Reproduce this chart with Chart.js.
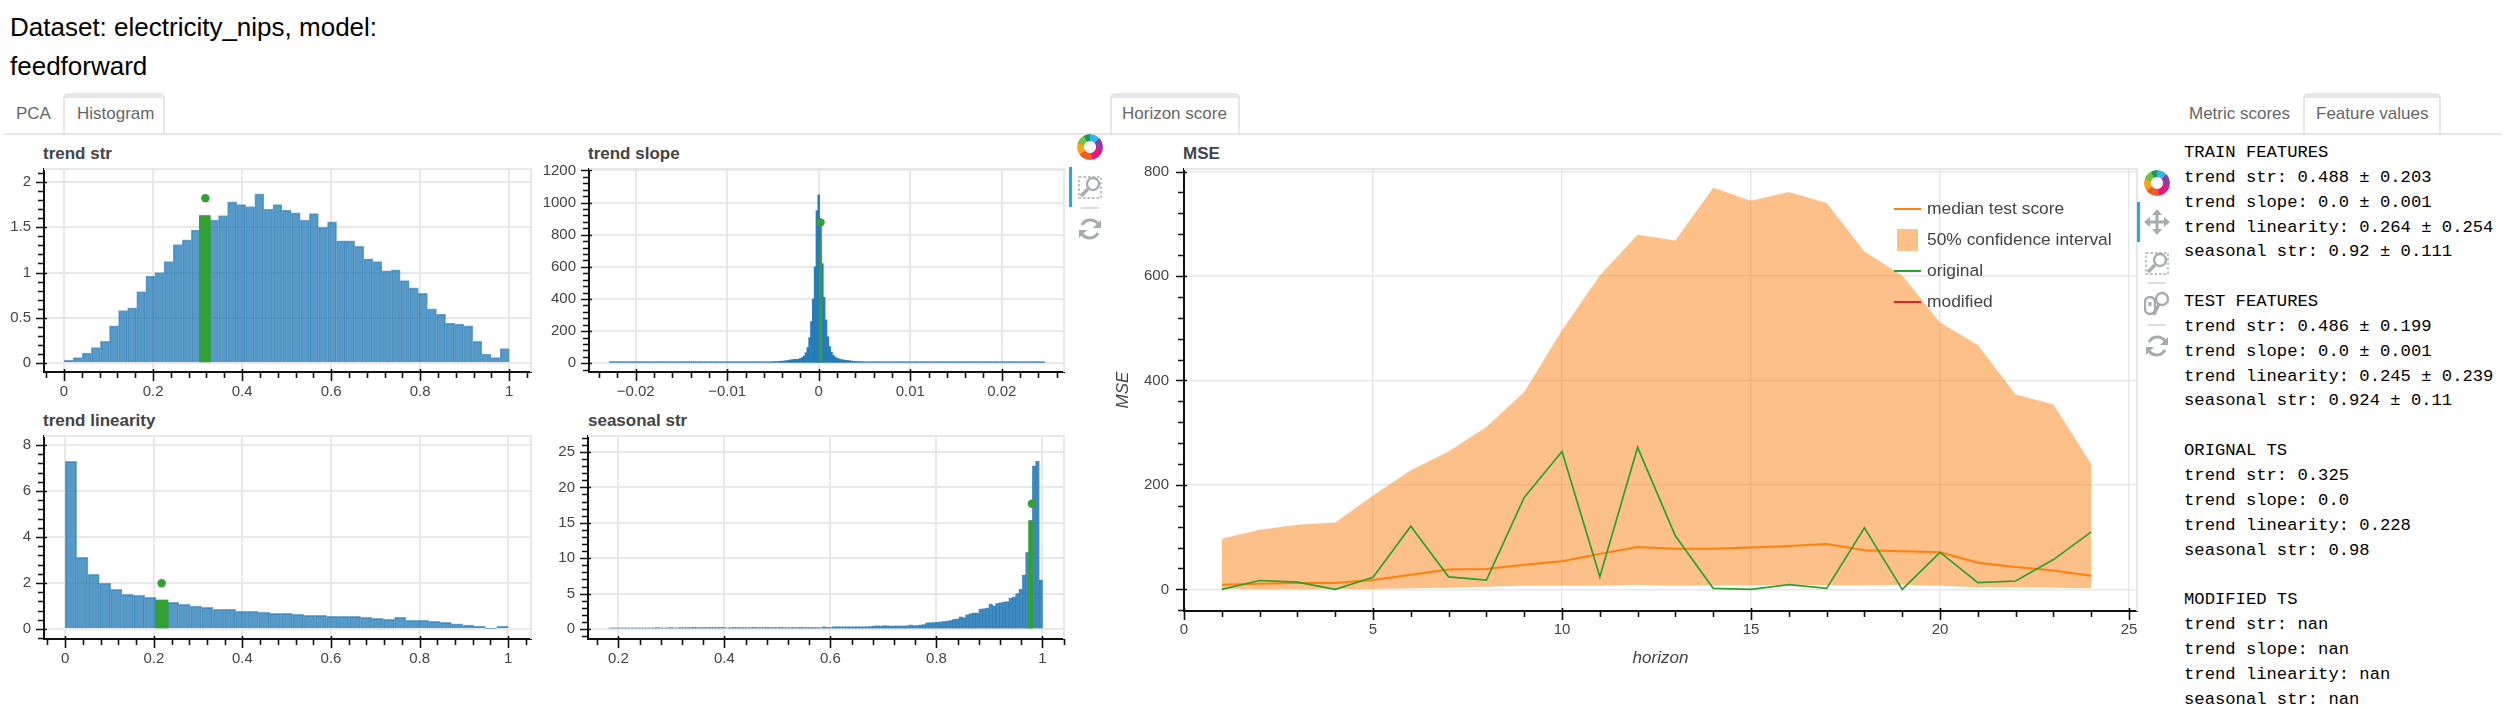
<!DOCTYPE html>
<html>
<head>
<meta charset="utf-8">
<script src="https://cdn.jsdelivr.net/npm/chart.js@4"></script>
<style>
  html, body { margin: 0; background: #fff; overflow: hidden; }
  body { width: 2511px; height: 709px; position: relative; font-family: "Liberation Sans", sans-serif; }
  canvas, .abs { position: absolute; }
  .head { left: 10px; top: 8px; font-size: 26px; line-height: 38.5px; color: #000; white-space: pre; }
  .rule { height: 2px; background: #e6e6e6; top: 133px; left: 4px; width: 2497px; }
  .tab { top: 102px; font-size: 17px; line-height: 24px; color: #666; white-space: nowrap; }
  .tabbox { top: 93px; height: 40px; box-sizing: border-box; border: 2px solid #e6e6e6; border-top-width: 5px; border-bottom: 0; border-radius: 5px 5px 0 0; background: #fff; }
  .plot-title { font-size: 17px; font-weight: bold; color: #444; line-height: 20px; }
  .legend { font-size: 17.4px; line-height: 20px; color: #444; white-space: nowrap; }
  pre.features { margin: 0; left: 2184px; top: 141px; font-family: "Liberation Mono", monospace; font-size: 17.2px; line-height: 24.85px; color: #000; }
  .logo { width: 26px; height: 26px; border-radius: 50%; background: conic-gradient(#36b5e5 0 45deg, #8e3fa8 45deg 100deg, #e6177d 100deg 170deg, #f15a29 170deg 235deg, #f9a61a 235deg 285deg, #7bc043 285deg 330deg, #1c9a5a 330deg 360deg); -webkit-mask: radial-gradient(circle, transparent 5.5px, #000 6.5px); }
  .active { width: 3px; height: 40px; background: #26aae1; }
  .sep { width: 18px; height: 2px; background: #ddd; }
  svg.tool { position: absolute; width: 26px; height: 26px; fill: none; stroke: #a6abae; stroke-width: 2.4; }
</style>
</head>
<body>
<div class="abs head">Dataset: electricity_nips, model:
feedforward</div>

<div class="abs rule"></div>
<div class="abs tab" style="left:16px">PCA</div>
<div class="abs tabbox" style="left:63px;width:102px"></div>
<div class="abs tab" style="left:77px">Histogram</div>
<div class="abs tabbox" style="left:1110px;width:130px"></div>
<div class="abs tab" style="left:1122px">Horizon score</div>
<div class="abs tab" style="left:2189px">Metric scores</div>
<div class="abs tabbox" style="left:2303px;width:138px"></div>
<div class="abs tab" style="left:2316px">Feature values</div>

<div class="abs plot-title" style="left:43px;top:144px">trend str</div>
<div class="abs plot-title" style="left:588px;top:144px">trend slope</div>
<div class="abs plot-title" style="left:43px;top:411px">trend linearity</div>
<div class="abs plot-title" style="left:588px;top:411px">seasonal str</div>
<div class="abs plot-title" style="left:1183px;top:144px">MSE</div>

<canvas id="histStr" width="560" height="240" style="left:0;top:160px"></canvas>
<canvas id="histSlope" width="540" height="240" style="left:530px;top:160px"></canvas>
<canvas id="histLinearity" width="560" height="240" style="left:0;top:427px"></canvas>
<canvas id="histSeasonal" width="540" height="240" style="left:530px;top:427px"></canvas>
<canvas id="horizon" width="1060" height="520" style="left:1100px;top:160px"></canvas>

<div id="legend"></div>

<!-- left toolbar -->
<div class="abs logo" style="left:1077px;top:134px"></div>
<div class="abs active" style="left:1069px;top:167px"></div>
<svg class="tool" viewBox="0 0 26 26" style="left:1077px;top:174px"><rect x="2" y="3" width="22" height="21" stroke-width="1.4" stroke-dasharray="2.5 2"/><circle cx="16" cy="10" r="6"/><path d="M11 15 L4 22" stroke-width="3.4"/></svg>
<div class="abs sep" style="left:1081px;top:207px"></div>
<svg class="tool" viewBox="0 0 26 26" style="left:1077px;top:216px"><path d="M5 9 A9.5 9.5 0 0 1 21 8 M21 17 A9.5 9.5 0 0 1 5 18" stroke-width="3"/><path d="M24 4 V12 H16 Z M2 22 V14 H10 Z" fill="#a6abae" stroke="none"/></svg>

<!-- right toolbar -->
<div class="abs logo" style="left:2144px;top:170px"></div>
<div class="abs active" style="left:2137px;top:202px"></div>
<svg class="tool" viewBox="0 0 26 26" style="left:2144px;top:209px"><path d="M13 3 V23 M3 13 H23" stroke-width="3"/><path d="M13 0 L18 6 H8 Z M13 26 L18 20 H8 Z M0 13 L6 8 V18 Z M26 13 L20 8 V18 Z" fill="#a6abae" stroke="none"/></svg>
<svg class="tool" viewBox="0 0 26 26" style="left:2144px;top:250px"><rect x="2" y="3" width="22" height="21" stroke-width="1.4" stroke-dasharray="2.5 2"/><circle cx="16" cy="10" r="6"/><path d="M11 15 L4 22" stroke-width="3.4"/></svg>
<div class="abs sep" style="left:2148px;top:282px"></div>
<svg class="tool" viewBox="0 0 26 26" style="left:2144px;top:291px"><rect x="1" y="6" width="10" height="17" rx="5"/><path d="M6 11 V15" stroke-width="3"/><circle cx="18" cy="8" r="6"/><path d="M15 13 L10 24" stroke-width="3"/></svg>
<div class="abs sep" style="left:2148px;top:324px"></div>
<svg class="tool" viewBox="0 0 26 26" style="left:2144px;top:333px"><path d="M5 9 A9.5 9.5 0 0 1 21 8 M21 17 A9.5 9.5 0 0 1 5 18" stroke-width="3"/><path d="M24 4 V12 H16 Z M2 22 V14 H10 Z" fill="#a6abae" stroke="none"/></svg>

<pre class="abs features">TRAIN FEATURES
trend str: 0.488 ± 0.203
trend slope: 0.0 ± 0.001
trend linearity: 0.264 ± 0.254
seasonal str: 0.92 ± 0.111

TEST FEATURES
trend str: 0.486 ± 0.199
trend slope: 0.0 ± 0.001
trend linearity: 0.245 ± 0.239
seasonal str: 0.924 ± 0.11

ORIGNAL TS
trend str: 0.325
trend slope: 0.0
trend linearity: 0.228
seasonal str: 0.98

MODIFIED TS
trend str: nan
trend slope: nan
trend linearity: nan
seasonal str: nan</pre>

<script>
// histogram heights, one value per bin
const strBins = [
  0.03, 0.06, 0.11, 0.17, 0.24, 0.41, 0.58, 0.61, 0.79, 0.96,
  1.0, 1.12, 1.31, 1.36, 1.47, 1.63, 1.58, 1.63, 1.78, 1.75,
  1.73, 1.87, 1.7, 1.75, 1.69, 1.66, 1.58, 1.65, 1.5, 1.56,
  1.35, 1.35, 1.29, 1.15, 1.12, 1.02, 1.03, 0.91, 0.83, 0.77,
  0.6, 0.54, 0.44, 0.43, 0.41, 0.24, 0.1, 0.06, 0.16
];
const linearityBins = [
  7.29, 3.12, 2.38, 1.99, 1.72, 1.51, 1.46, 1.38, 1.26, 1.16,
  1.07, 1.0, 0.94, 0.86, 0.86, 0.77, 0.77, 0.72, 0.68, 0.68,
  0.64, 0.59, 0.59, 0.55, 0.55, 0.55, 0.51, 0.46, 0.42, 0.51,
  0.38, 0.38, 0.33, 0.29, 0.22, 0.17, 0.12, 0.03, 0.12
];
const seasonalBins = [
  0.02, 0.02, 0.03, 0.03, 0.03, 0.04, 0.04, 0.05, 0.05, 0.05,
  0.06, 0.07, 0.08, 0.12, 0.2, 0.12, 0.1, 0.13, 0.2, 0.14,
  0.15, 0.2, 0.18, 0.2, 0.2, 0.22, 0.2, 0.2, 0.2, 0.2,
  0.22, 0.2, 0.2, 0.22, 0.2, 0.1, 0.2, 0.22, 0.2, 0.2,
  0.2, 0.18, 0.2, 0.22, 0.2, 0.2, 0.2, 0.22, 0.2, 0.2,
  0.2, 0.22, 0.2, 0.18, 0.2, 0.2, 0.2, 0.22, 0.2, 0.2,
  0.2, 0.2, 0.2, 0.18, 0.3, 0.22, 0.2, 0.3, 0.32, 0.3,
  0.3, 0.32, 0.3, 0.3, 0.32, 0.3, 0.3, 0.32, 0.35, 0.4,
  0.45, 0.4, 0.45, 0.45, 0.4, 0.42, 0.42, 0.42, 0.42, 0.45,
  0.55, 0.45, 0.5, 0.55, 0.62, 0.85, 0.88, 0.9, 0.95, 1.0,
  1.05, 1.1, 1.2, 1.35, 1.4, 1.7, 1.6, 2.0, 2.15, 2.25,
  2.25, 2.8, 2.85, 2.95, 3.5, 3.25, 3.6, 3.7, 3.8, 3.85,
  4.35, 4.5, 5.0, 5.6, 7.6, 10.8, 15.3, 23.0, 23.7, 6.9
];
const slopeBins = [
  1, 1, 1, 1, 1, 1, 1, 1, 1, 1, 1, 1, 1, 1, 1, 1, 1, 1, 1, 1,
  1, 1, 1, 1, 1, 1, 1, 1, 1, 1, 1, 1, 1, 1, 1, 2, 1, 1, 1, 1,
  1, 1, 1, 2, 1, 1, 1, 2, 1, 2, 2, 1, 2, 2, 1, 2, 2, 2, 2, 2,
  3, 2, 2, 3, 3, 2, 3, 3, 3, 3, 3, 4, 3, 4, 4, 4, 5, 4, 5, 5,
  6, 5, 6, 6, 7, 7, 8, 9, 9, 10, 11, 11, 12, 13, 13, 14, 16, 18, 20, 22,
  23, 25, 24, 26, 30, 36, 46, 66, 98, 160, 260, 400, 600, 950,
  1048,
  880, 620, 410, 270, 165, 105, 70, 50, 40, 32,
  28, 24, 22, 20, 18, 17, 16, 14, 13, 12,
  11, 11, 10, 10, 9, 8, 8, 8, 7, 7,
  6, 6, 5, 5, 5, 4, 4, 4, 4, 3,
  4, 3, 3, 3, 3, 3, 2, 3, 2, 2,
  2, 2, 2, 2, 1, 2, 2, 1, 2, 1,
  1, 1, 2, 1, 1, 1, 1, 1, 2, 1, 1, 1, 1, 1, 1, 1, 1, 1, 1, 1, 1,
  1, 1, 1, 1, 1, 1, 1, 1, 1, 1, 1, 1, 1, 1, 1, 1, 1, 1, 1, 1, 1,
  1, 1, 1, 1, 1, 1, 1, 1, 1, 1, 1, 1, 1, 1, 1, 1, 1, 1, 1, 1, 1
];

// horizon score
const horizons = [1, 2, 3, 4, 5, 6, 7, 8, 9, 10, 11, 12, 13, 14, 15, 16, 17, 18, 19, 20, 21, 22, 23, 24];
const bandUpper = [97, 114, 124, 128, 180, 228, 264, 311, 378, 496, 601, 679, 668, 769, 744, 761, 740, 647, 601, 511, 468, 373, 354, 240];
const bandLower = [1, 0.5, 0.5, 0.5, 0.5, 2, 3, 5, 7, 7, 7, 9, 7, 8, 8, 9, 8, 8, 9, 7, 4, 4, 3, 2];
const medianScore = [9, 11, 12, 12, 18, 28, 38, 39, 47, 54, 68, 81, 78, 78, 80, 83, 87, 75, 73, 71, 51, 43, 36, 26];
const originalScore = [0, 17, 14, 0, 23, 121, 24, 18, 176, 264, 24, 272, 102, 2, 0, 9, 2, 118, 0, 71, 13, 16, 57, 110];
const modifiedScore = [];

// axis tick labels
const unitTicks = [0, 0.2, 0.4, 0.6, 0.8, 1];
const strYTicks = [0, 0.5, 1, 1.5, 2];
const slopeXTicks = [-0.02, -0.01, 0, 0.01, 0.02];
const slopeYTicks = [0, 200, 400, 600, 800, 1000, 1200];
const linearityYTicks = [0, 2, 4, 6, 8];
const seasonalXTicks = [0.2, 0.4, 0.6, 0.8, 1];
const seasonalYTicks = [0, 5, 10, 15, 20, 25];
const horizonXTicks = [0, 5, 10, 15, 20, 25];
const horizonYTicks = [0, 200, 400, 600, 800];

const legendNames = ["median test score", "50% confidence interval", "original", "modified"];

const BLUE = "rgba(31, 119, 180, 0.75)";
const GREEN = "#33a035";
const ORANGE = "#ff7f0e";
const GRID = "#e8e8e8";
const LABEL = "#444";

// bokeh style ticks: long majors crossing the axis, short minors outside
const axisTicks = {
  id: "axisTicks",
  beforeDatasetsDraw(chart) {
    const { ctx, chartArea: a } = chart;
    ctx.save();
    ctx.strokeStyle = GRID;
    ctx.lineWidth = 2;
    ctx.beginPath();
    ctx.moveTo(a.left, a.top);
    ctx.lineTo(a.right, a.top);
    ctx.lineTo(a.right, a.bottom);
    ctx.stroke();
    ctx.restore();
  },
  afterDraw(chart) {
    const { ctx, chartArea: a, scales } = chart;
    const o = chart.options.plugins.axisTicks;
    ctx.save();
    ctx.strokeStyle = "#111";
    ctx.lineWidth = 1.6;
    ctx.beginPath();
    for (const [axis, step] of [[scales.x, o.xMinor], [scales.y, o.yMinor]]) {
      const horizontal = axis === scales.x;
      for (let n = Math.ceil(axis.min / step - 1e-6); n * step <= axis.max + 1e-9; n++) {
        const p = Math.round(axis.getPixelForValue(n * step)) + 0.5;
        if (horizontal) { ctx.moveTo(p, a.bottom); ctx.lineTo(p, a.bottom + 6); }
        else { ctx.moveTo(a.left, p); ctx.lineTo(a.left - 6, p); }
      }
      for (const t of axis.ticks) {
        const p = Math.round(axis.getPixelForValue(t.value)) + 0.5;
        if (horizontal) { ctx.moveTo(p, a.bottom - 3); ctx.lineTo(p, a.bottom + 9); }
        else { ctx.moveTo(a.left + 3, p); ctx.lineTo(a.left - 8, p); }
      }
    }
    ctx.stroke();
    ctx.restore();
  }
};

function axis(range, ticks, side, padding, gridWidth) {
  return {
    type: "linear",
    min: range[0],
    max: range[1],
    offset: false,
    afterBuildTicks: s => { s.ticks = ticks.map(value => ({ value })); },
    afterFit: s => {
      if (side.w) s.width = side.w;
      if (side.h) s.height = side.h;
      // the plot rectangle is fixed, no room for overhanging labels
      s.paddingTop = s.paddingBottom = s.paddingLeft = s.paddingRight = 0;
    },
    grid: { color: GRID, lineWidth: gridWidth, drawTicks: false, offset: false },
    border: { color: "#111", width: 2 },
    ticks: {
      autoSkip: false,
      maxRotation: 0,
      padding,
      color: LABEL,
      font: { family: "Liberation Sans", size: 15 },
      callback: v => String(v).replace("-", "\u2212")
    }
  };
}

function histogram(id, cfg) {
  const centers = cfg.bins.map((_, i) => cfg.start + (i + 0.5) * cfg.width);
  new Chart(document.getElementById(id), {
    type: "bar",
    data: {
      datasets: [
        {
          type: "scatter",
          data: [{ x: cfg.dot[0], y: cfg.dot[1] }],
          pointRadius: 4.2,
          pointBackgroundColor: GREEN,
          pointBorderWidth: 0,
          order: 0
        },
        {
          data: [{ x: centers[cfg.markBin], y: cfg.markValue }],
          backgroundColor: GREEN,
          barThickness: cfg.markWidth,
          grouped: false,
          order: 1
        },
        {
          data: cfg.bins.map((y, i) => ({ x: centers[i], y })),
          backgroundColor: cfg.fill || BLUE,
          borderColor: "rgba(31, 119, 180, 0.6)",
          borderWidth: cfg.border === undefined ? 1 : cfg.border,
          minBarLength: cfg.minBar || 0,
          barPercentage: 1,
          categoryPercentage: 1,
          grouped: false,
          order: 2
        }
      ]
    },
    options: {
      responsive: false,
      animation: false,
      devicePixelRatio: 1,
      events: [],
      layout: { autoPadding: false, padding: { top: 9, right: cfg.right } },
      plugins: {
        legend: { display: false },
        tooltip: { enabled: false },
        title: { display: false },
        axisTicks: { xMinor: cfg.xMinor, yMinor: cfg.yMinor }
      },
      scales: {
        x: axis(cfg.xRange, cfg.xTicks, { h: cfg.bottom }, 11, 2),
        y: axis(cfg.yRange, cfg.yTicks, { w: cfg.left }, 13, 2)
      }
    },
    plugins: [axisTicks]
  });
}

histogram("histStr", {
  bins: strBins, start: 0, width: 1 / 49, markBin: 15, markValue: 1.63, markWidth: 11, dot: [0.3175, 1.82],
  xRange: [-0.045, 1.049], yRange: [-0.0994, 2.144], xTicks: unitTicks, yTicks: strYTicks,
  xMinor: 0.04, yMinor: 0.1, left: 44, right: 29, bottom: 28
});
histogram("histSlope", {
  bins: slopeBins, start: -0.0229, width: 0.0002, markBin: 115, markValue: 775, markWidth: 1.8, dot: [0.0002, 877],
  xRange: [-0.0251, 0.0268], yRange: [-54, 1209], xTicks: slopeXTicks, yTicks: slopeYTicks,
  xMinor: 0.002, yMinor: 40, left: 59, right: 6, bottom: 28, fill: "rgba(31, 119, 180, 0.95)", border: 0, minBar: 1.5
});
histogram("histLinearity", {
  bins: linearityBins, start: 0, width: 1 / 39, markBin: 8, markValue: 1.26, markWidth: 12.6, dot: [0.2177, 1.99],
  xRange: [-0.0479, 1.0515], yRange: [-0.435, 8.39], xTicks: unitTicks, yTicks: linearityYTicks,
  xMinor: 0.04, yMinor: 0.4, left: 44, right: 29, bottom: 28
});
histogram("histSeasonal", {
  bins: seasonalBins, start: 0.1822, width: 0.00629, markBin: 126, markValue: 15.3, markWidth: 4.2, dot: [0.98, 17.7],
  xRange: [0.1426, 1.0406], yRange: [-1.41, 27.26], xTicks: seasonalXTicks, yTicks: seasonalYTicks,
  xMinor: 0.04, yMinor: 1, left: 58, right: 6, bottom: 28, fill: "rgba(31, 119, 180, 0.85)", border: 0, minBar: 1
});

const horizonChart = new Chart(document.getElementById("horizon"), {
  type: "line",
  data: {
    labels: horizons,
    datasets: [
      { label: legendNames[2], data: horizons.map((x, i) => ({ x, y: originalScore[i] })), borderColor: "#2ca02c", borderWidth: 1.7, pointRadius: 0, order: 0 },
      { label: legendNames[3], data: modifiedScore, borderColor: "#d62728", borderWidth: 1.7, pointRadius: 0, order: 1 },
      { label: legendNames[0], data: horizons.map((x, i) => ({ x, y: medianScore[i] })), borderColor: ORANGE, borderWidth: 2, pointRadius: 0, order: 2 },
      { label: legendNames[1], data: horizons.map((x, i) => ({ x, y: bandUpper[i] })), borderWidth: 0, pointRadius: 0, fill: "+1", backgroundColor: "rgba(252, 127, 14, 0.49)", order: 3 },
      { label: "band lower", data: horizons.map((x, i) => ({ x, y: bandLower[i] })), borderWidth: 0, pointRadius: 0, order: 4 }
    ]
  },
  options: {
    responsive: false,
    animation: false,
    devicePixelRatio: 1,
    events: [],
    layout: { autoPadding: false, padding: { top: 9, right: 23 } },
    plugins: {
      legend: { display: false },
      tooltip: { enabled: false },
      axisTicks: { xMinor: 1, yMinor: 40 }
    },
    scales: {
      x: Object.assign(axis([0, 25.21], horizonXTicks, { h: 69 }, 10, 1.5), {
        title: { display: true, text: "horizon", color: LABEL, font: { family: "Liberation Sans", size: 17, style: "italic" }, padding: { top: 0, bottom: 12 } }
      }),
      y: Object.assign(axis([-41.4, 805], horizonYTicks, { w: 84 }, 15, 1.5), {
        title: { display: true, text: "MSE", color: LABEL, font: { family: "Liberation Sans", size: 17, style: "italic" }, padding: { top: 13, bottom: 0 } }
      })
    }
  },
  plugins: [axisTicks]
});

// legend sits over the plot, same as the original
const rows = [
  { name: legendNames[0], y: 209, color: ORANGE },
  { name: legendNames[1], y: 240, color: "rgba(252, 127, 14, 0.49)", box: true },
  { name: legendNames[2], y: 271, color: "#2ca02c" },
  { name: legendNames[3], y: 302, color: "#d62728" }
];
const legendEl = document.getElementById("legend");
for (const r of rows) {
  const swatch = document.createElement("div");
  swatch.className = "abs";
  swatch.style.cssText = r.box
    ? `left:1897px;top:${r.y - 11}px;width:21px;height:22px;background:${r.color}`
    : `left:1894px;top:${r.y - 1}px;width:27px;height:2px;background:${r.color}`;
  legendEl.appendChild(swatch);
  const text = document.createElement("div");
  text.className = "abs legend";
  text.style.cssText = `left:1927px;top:${r.y - 11}px`;
  text.textContent = r.name;
  legendEl.appendChild(text);
}
</script>
</body>
</html>
